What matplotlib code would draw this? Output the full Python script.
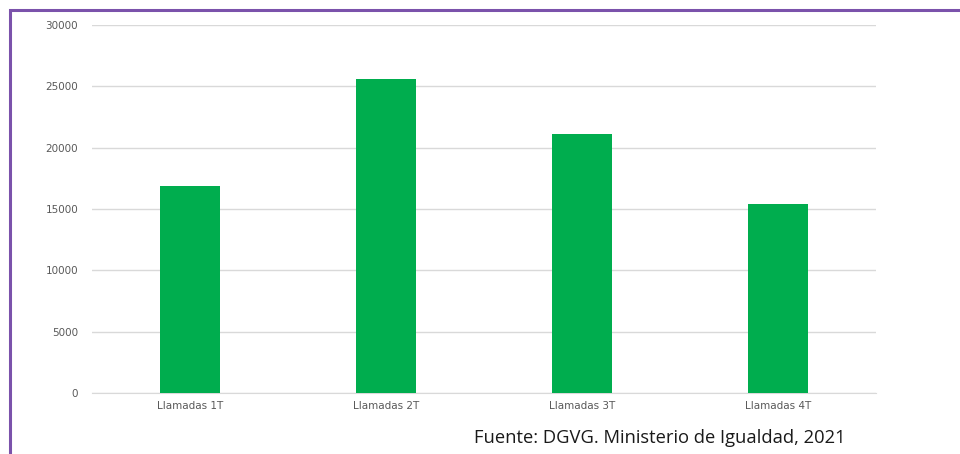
import matplotlib.pyplot as plt
from matplotlib.patches import Rectangle

# Datos: llamadas por trimestre
categorias = ['Llamadas 1T', 'Llamadas 2T', 'Llamadas 3T', 'Llamadas 4T']
llamadas = [16900, 25600, 21100, 15400]
ticks_y = [0, 5000, 10000, 15000, 20000, 25000, 30000]

fig = plt.figure(figsize=(9.6, 4.54), dpi=100)
ax = fig.add_axes([0.0958, 0.1344, 0.8167, 0.8106])

ax.bar(range(len(categorias)), llamadas, width=0.31, color='#00AD4E', zorder=3)

ax.set_xlim(-0.5, len(categorias) - 0.5)
ax.set_ylim(0, 30000)
ax.set_yticks(ticks_y)
ax.set_yticklabels([str(t) for t in ticks_y])
ax.set_xticks(range(len(categorias)))
ax.set_xticklabels(categorias)
ax.tick_params(axis='both', length=0, labelsize=7.5, colors='#595959')
ax.tick_params(axis='y', pad=10)
ax.tick_params(axis='x', pad=6)

ax.grid(axis='y', color='#D9D9D9', linewidth=1, zorder=0)
for s in ['top', 'right', 'left']:
    ax.spines[s].set_visible(False)
ax.spines['bottom'].set_color('#D9D9D9')

# marco morado
fig.patches.append(Rectangle((10 / 960, -0.1), 1.2, 1 - 10 / 454 + 0.1,
                             transform=fig.transFigure, fill=False,
                             edgecolor='#7B52AB', linewidth=2.2))

fig.text(846 / 960, 1 - 443 / 454, 'Fuente: DGVG. Ministerio de Igualdad, 2021',
         ha='right', va='baseline', fontsize=13.2, family='Open Sans', color='#1A1A1A')

fig.savefig('out.png', dpi=100)
